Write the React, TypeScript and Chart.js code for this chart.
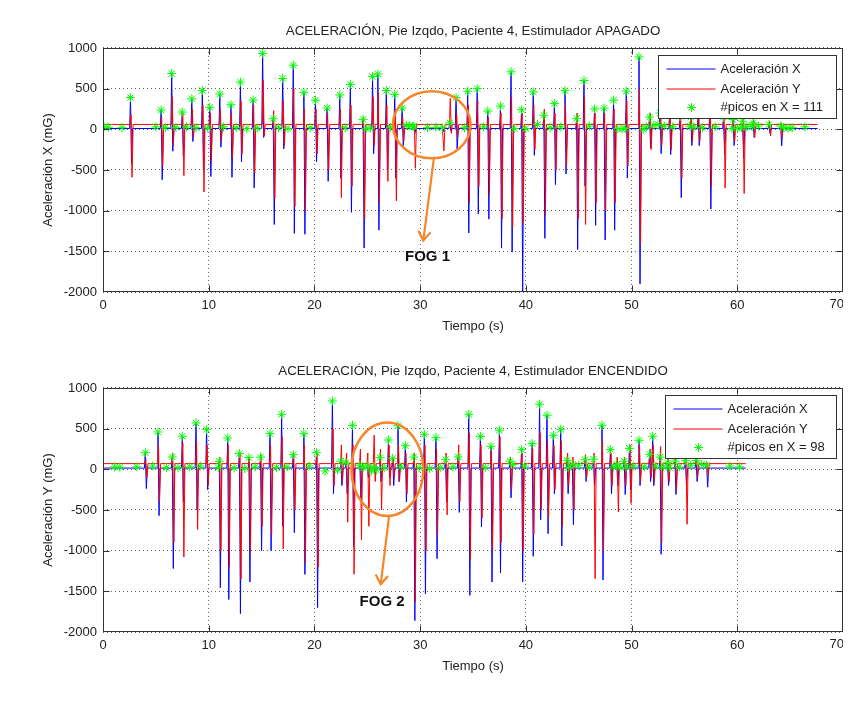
import { useEffect, useRef } from "react";
import { Chart, registerables } from "chart.js";
Chart.register(...registerables);

// ---------- shared axis ticks ----------
const X_MIN = 0;
const X_MAX = 70;
const X_STEP = 10;
const Y_MIN = -2000;
const Y_MAX = 1000;
const Y_STEP = 500;

// ---------- top plot: Estimulador APAGADO ----------
const OFF_TITLE = "ACELERACIÓN, Pie Izqdo, Paciente 4, Estimulador APAGADO";
const OFF_YLABEL = "Aceleración X (mG)";
const OFF_STAR_LABEL = "#picos en X = 111";
const OFF_END = 67.6;
const OFF_X_BASE = 10;
const OFF_Y_BASE = 60;
const OFF_T = [2.6, 5.5, 6.5, 7.5, 8.4, 9.4, 10.1, 11.05, 12.1, 13.0, 14.2, 15.1, 16.1, 17.0, 18.0, 19.0, 20.1, 21.2, 22.4, 23.4, 24.6, 25.5, 26.0, 26.8, 27.6, 28.3, 29.4, 32.1, 32.8, 33.4, 34.5, 35.4, 36.4, 37.6, 38.6, 39.6, 40.7, 41.7, 42.7, 43.7, 44.8, 45.5, 46.5, 47.4, 48.3, 49.5, 50.7, 51.7, 52.7, 53.6, 54.6, 55.6, 56.3, 57.4, 58.7, 59.6, 60.5, 61.5, 63.0, 64.1];
const OFF_X_PEAK = [390, 236, 686, 212, 375, 477, 270, 434, 302, 580, 360, 933, 130, 625, 788, 454, 357, 262, 422, 552, 122, 650, 680, 477, 430, 262, 40, 20, 80, 390, 469, 500, 225, 285, 707, 240, 460, 172, 318, 476, 134, 600, 250, 260, 358, 470, 890, 150, 200, 180, 160, 150, 200, 180, 150, 120, 100, 80, 60, 40];
const OFF_X_TROUGH = [-430, -620, -270, -330, -150, -500, -580, -220, -590, -400, -720, -100, -1170, -240, -1280, -1290, -400, -640, -600, -1020, -1460, -300, -1240, -500, -600, -200, -50, -30, -20, -265, -1274, -1042, -1104, -1460, -1510, -2000, -320, -1340, -680, -550, -1480, -700, -1180, -1360, -1240, -600, -1900, -230, -300, -310, -840, -200, -200, -980, -300, -200, -350, -100, -50, -205];
const OFF_Y_PEAK = [180, 150, 400, 200, 250, 300, 200, 250, 200, 350, 300, 600, 230, 350, 500, 250, 250, 200, 250, 300, 150, 400, 450, 300, 250, 150, 60, 60, 380, 200, 300, 350, 150, 200, 400, 200, 300, 250, 200, 300, 200, 400, 200, 200, 250, 350, 500, 200, 250, 200, 200, 180, 250, 200, 200, 150, 150, 120, 100, 80];
const OFF_Y_TROUGH = [-590, -450, -200, -570, -100, -770, -400, -150, -350, -300, -540, -80, -850, -200, -950, -1000, -300, -500, -840, -700, -1100, -200, -900, -640, -880, -150, -480, -265, -50, -100, -900, -700, -800, -1100, -1200, -1150, -250, -1050, -500, -450, -1100, -1170, -900, -1000, -900, -450, -1400, -250, -200, -250, -600, -150, -150, -700, -720, -150, -790, -100, -80, -100];
const OFF_STAR_T = [0.1, 0.5, 1.8, 5.0, 5.9, 6.9, 7.9, 8.8, 9.9, 11.4, 12.6, 13.6, 14.6, 16.6, 17.5, 19.6, 22.9, 24.9, 25.3, 27.2, 28.7, 29.0, 29.3, 30.7, 31.5, 34.2, 36.0, 38.9, 40.0, 41.1, 42.3, 43.3, 46.0, 48.7, 49.1, 49.4, 51.1, 51.4, 52.1, 52.5, 53.1, 53.9, 55.5, 55.9, 56.7, 57.9, 59.5, 60.0, 60.4, 60.9, 61.4, 62.0, 64.4, 64.8, 65.2, 66.4];
const OFF_STAR_V = [30, 25, 20, 30, 20, 25, 30, 20, 15, 30, 20, 10, 15, 20, 10, 20, 20, 10, 15, 25, 50, 40, 35, 20, 25, 20, 30, 10, 10, 60, 20, 30, 40, 10, 5, 10, 0, 30, 50, 60, 40, 30, 40, 30, 20, 30, 10, 15, 20, 30, 35, 40, 20, 15, 20, 30];
// FOG 1 annotation (data units)
const OFF_FOG = { label: "FOG 1", cx: 31.1, cy: 56, rx: 3.67, ry: 413, ax0: 31.3, ay0: -355, ax1: 30.3, ay1: -1368, tx: 30.7, ty: -1566 };

// ---------- bottom plot: Estimulador ENCENDIDO ----------
const ON_TITLE = "ACELERACIÓN, Pie Izqdo, Paciente 4, Estimulador ENCENDIDO";
const ON_YLABEL = "Aceleración Y (mG)";
const ON_STAR_LABEL = "#picos en X = 98";
const ON_END = 60.8;
const ON_X_BASE = 15;
const ON_Y_BASE = 70;
const ON_T = [4.0, 5.2, 6.55, 7.5, 8.8, 9.8, 11.0, 11.8, 12.9, 13.8, 14.9, 15.8, 16.9, 18.0, 19.0, 20.2, 21.7, 22.5, 23.0, 23.6, 24.3, 25.0, 25.6, 26.2, 27.0, 27.4, 27.9, 28.6, 29.4, 30.4, 31.5, 32.4, 33.6, 34.6, 35.7, 36.7, 37.5, 38.5, 39.6, 40.6, 41.3, 42.0, 42.6, 43.3, 43.9, 44.4, 45.6, 46.4, 47.2, 48.0, 48.6, 49.3, 49.8, 50.7, 51.7, 52.0, 52.7, 53.4, 54.1, 55.1, 56.1, 57.1];
const ON_X_PEAK = [205, 459, 151, 406, 570, 488, 100, 385, 193, 144, 150, 439, 676, 180, 439, 205, 840, 100, 80, 541, 50, 40, 30, 144, 360, 135, 536, 290, 150, 430, 390, 119, 152, 676, 405, 283, 480, 100, 242, 316, 800, 664, 418, 492, 110, 60, 118, 125, 541, 242, 60, 100, 257, 357, 185, 406, 150, 80, 100, 110, 110, 50];
const ON_X_TROUGH = [-237, -570, -1220, -400, -500, -250, -1455, -1600, -1775, -1386, -1000, -1000, -700, -780, -1292, -1700, -300, -200, -300, -950, -400, -100, -50, -150, -100, -200, -150, -400, -1860, -1530, -1099, -400, -530, -1550, -710, -1386, -1275, -350, -1386, -1070, -620, -791, -300, -943, -300, -680, -150, -200, -1360, -300, -200, -310, -250, -200, -150, -200, -1045, -200, -310, -200, -150, -220];
const ON_Y_PEAK = [120, 300, 200, 320, 350, 300, 150, 300, 200, 150, 180, 300, 400, 200, 300, 200, 500, 300, 200, 300, 250, 200, 420, 250, 300, 150, 300, 200, 200, 300, 250, 200, 300, 450, 300, 250, 400, 150, 200, 250, 450, 350, 300, 350, 200, 150, 180, 200, 350, 200, 150, 150, 300, 300, 250, 300, 280, 150, 150, 150, 150, 80];
const ON_Y_TROUGH = [-100, -400, -900, -1078, -740, -200, -1000, -1200, -1350, -1000, -700, -800, -980, -500, -1150, -1200, -200, -150, -650, -1290, -870, -700, -150, -500, -200, -100, -150, -300, -1630, -1000, -800, -560, -400, -1100, -600, -1000, -900, -250, -1000, -800, -500, -600, -250, -700, -200, -500, -100, -1345, -1000, -200, -525, -200, -420, -150, -100, -150, -900, -150, -250, -676, -100, -80];
const ON_STAR_T = [1.1, 1.6, 3.2, 4.7, 6.0, 7.1, 8.2, 9.2, 10.9, 12.4, 13.4, 14.4, 16.4, 17.4, 19.5, 21.0, 22.2, 24.6, 25.4, 25.9, 26.6, 28.2, 29.9, 30.9, 31.9, 33.1, 36.2, 38.8, 39.9, 44.0, 45.0, 46.0, 48.3, 48.9, 49.5, 50.2, 51.2, 52.3, 53.0, 53.6, 54.5, 55.6, 56.6, 59.3, 60.2];
const ON_STAR_V = [30, 25, 30, 40, 20, 20, 30, 40, 20, 15, 10, 30, 20, 30, 40, -20, -10, 20, -20, -10, 20, 30, 20, 10, 20, 30, 20, 60, 40, 20, 50, 30, 30, 20, 30, 40, 30, 40, 30, 20, 30, 50, 60, 40, 30];
const ON_FOG = { label: "FOG 2", cx: 26.9, cy: 0, rx: 3.4, ry: 574, ax0: 27.06, ay0: -578, ax1: 26.27, ay1: -1414, tx: 26.4, ty: -1632 };

const LEGEND_X = "Aceleración X";
const LEGEND_Y = "Aceleración Y";
const X_AXIS_LABEL = "Tiempo (s)";

const FONT = "'Liberation Sans', Arial, sans-serif";
const TXT = "#222";
const BLUE = "rgb(0,0,255)";
const RED = "rgb(255,0,0)";
const GREEN = "rgb(0,255,0)";
const ORANGE = "rgb(245,134,42)";

type Pt = { x: number; y: number };

function buildLine(t: number[], peak: number[], trough: number[], base: number, shift: number, end: number): Pt[] {
  const pts: Pt[] = [{ x: 0, y: base }];
  for (let i = 0; i < t.length; i++) {
    const c = t[i] + shift;
    pts.push({ x: c - 0.08, y: base }, { x: c, y: peak[i] }, { x: c + 0.1, y: trough[i] }, { x: c + 0.2, y: base });
  }
  pts.push({ x: end, y: base });
  return pts;
}

function buildStars(t: number[], v: number[], bt: number[], bv: number[]): Pt[] {
  const pts: Pt[] = [];
  for (let i = 0; i < t.length; i++) pts.push({ x: t[i], y: v[i] });
  for (let i = 0; i < bt.length; i++) pts.push({ x: bt[i], y: bv[i] });
  return pts.sort((a, b) => a.x - b.x);
}

type Fog = typeof OFF_FOG;

function makeDecor(fog: Fog, starLabel: string, legW: number) {
  return {
    id: "decor",
    afterDatasetsDraw(chart: any) {
      const { ctx, chartArea: ca, scales } = chart;
      const xs = scales.x;
      const ys = scales.y;
      ctx.save();
      const L = Math.round(ca.left) + 0.5;
      const R = Math.round(ca.right) - 0.5;
      const T = Math.round(ca.top) + 0.5;
      const B = Math.round(ca.bottom) - 0.5;
      ctx.strokeStyle = "#333";
      ctx.lineWidth = 1;
      ctx.setLineDash([]);
      ctx.strokeRect(L, T, R - L, B - T);
      ctx.beginPath();
      for (let v = X_MIN + X_STEP; v < X_MAX; v += X_STEP) {
        const px = Math.round(xs.getPixelForValue(v)) + 0.5;
        ctx.moveTo(px, T); ctx.lineTo(px, T + 6);
        ctx.moveTo(px, B); ctx.lineTo(px, B - 6);
      }
      for (let v = Y_MIN + Y_STEP; v < Y_MAX; v += Y_STEP) {
        const py = Math.round(ys.getPixelForValue(v)) + 0.5;
        ctx.moveTo(L, py); ctx.lineTo(L + 6, py);
        ctx.moveTo(R, py); ctx.lineTo(R - 6, py);
      }
      ctx.stroke();
      // ellipse
      const cx = xs.getPixelForValue(fog.cx);
      const cy = ys.getPixelForValue(fog.cy);
      const rx = Math.abs(xs.getPixelForValue(fog.cx + fog.rx) - cx);
      const ry = Math.abs(ys.getPixelForValue(fog.cy + fog.ry) - cy);
      ctx.strokeStyle = ORANGE;
      ctx.lineWidth = 2.5;
      ctx.beginPath();
      ctx.ellipse(cx, cy, rx, ry, 0, 0, Math.PI * 2);
      ctx.stroke();
      // arrow
      const x0 = xs.getPixelForValue(fog.ax0), y0 = ys.getPixelForValue(fog.ay0);
      const x1 = xs.getPixelForValue(fog.ax1), y1 = ys.getPixelForValue(fog.ay1);
      const ang = Math.atan2(y1 - y0, x1 - x0);
      const hl = 11;
      ctx.lineWidth = 2.2;
      ctx.beginPath();
      ctx.moveTo(x0, y0); ctx.lineTo(x1, y1);
      ctx.moveTo(x1 - hl * Math.cos(ang - 0.6), y1 - hl * Math.sin(ang - 0.6));
      ctx.lineTo(x1, y1);
      ctx.lineTo(x1 - hl * Math.cos(ang + 0.6), y1 - hl * Math.sin(ang + 0.6));
      ctx.stroke();
      ctx.fillStyle = "#111";
      ctx.font = `bold 15px ${FONT}`;
      ctx.textAlign = "center";
      ctx.textBaseline = "middle";
      ctx.fillText(fog.label, xs.getPixelForValue(fog.tx), ys.getPixelForValue(fog.ty));
      // legend
      const bx = Math.round(ca.right - 7 - legW) + 0.5;
      const by = Math.round(ca.top + 7) + 0.5;
      const bh = 63;
      ctx.fillStyle = "#fff";
      ctx.fillRect(bx, by, legW, bh);
      ctx.strokeStyle = "#333";
      ctx.lineWidth = 1;
      ctx.strokeRect(bx, by, legW, bh);
      const rows = [by + 13.5, by + 33.5, by + 52];
      ctx.strokeStyle = BLUE;
      ctx.beginPath(); ctx.moveTo(bx + 8, rows[0]); ctx.lineTo(bx + 57, rows[0]); ctx.stroke();
      ctx.strokeStyle = RED;
      ctx.beginPath(); ctx.moveTo(bx + 8, rows[1]); ctx.lineTo(bx + 57, rows[1]); ctx.stroke();
      ctx.strokeStyle = GREEN;
      const sx = bx + 33, sy = rows[2], r = 4.5;
      ctx.beginPath();
      for (let k = 0; k < 4; k++) {
        const a = (k * Math.PI) / 4;
        ctx.moveTo(sx - r * Math.cos(a), sy - r * Math.sin(a));
        ctx.lineTo(sx + r * Math.cos(a), sy + r * Math.sin(a));
      }
      ctx.stroke();
      ctx.fillStyle = TXT;
      ctx.font = `13px ${FONT}`;
      ctx.textAlign = "left";
      ctx.textBaseline = "middle";
      ctx.fillText(LEGEND_X, bx + 62, rows[0]);
      ctx.fillText(LEGEND_Y, bx + 62, rows[1]);
      ctx.fillText(starLabel, bx + 62, rows[2]);
      ctx.restore();
    },
    afterDraw(chart: any) {
      // last x tick label: kept fully inside the visible page edge
      const { ctx, chartArea: ca, scales } = chart;
      ctx.save();
      ctx.fillStyle = TXT;
      ctx.font = `13px ${FONT}`;
      ctx.textAlign = "right";
      ctx.textBaseline = "top";
      const px = scales.x.getPixelForValue(X_MAX);
      ctx.fillText(String(X_MAX), Math.min(px + 7, chart.width - 7), ca.bottom + 6);
      ctx.restore();
    },
  };
}

function makeConfig(opts: {
  title: string; yLabel: string; starLabel: string; legW: number; fog: Fog;
  xLine: Pt[]; yLine: Pt[]; stars: Pt[];
}): any {
  const tickFont = { family: FONT, size: 13 };
  return {
    type: "scatter",
    data: {
      datasets: [
        { label: LEGEND_X, data: opts.xLine, showLine: true, borderColor: BLUE, borderWidth: 1, pointRadius: 0, order: 3 },
        { label: LEGEND_Y, data: opts.yLine, showLine: true, borderColor: RED, borderWidth: 1, pointRadius: 0, order: 2 },
        {
          label: opts.starLabel, data: opts.stars, showLine: false, pointStyle: "star", pointRadius: 4.5,
          borderColor: GREEN, backgroundColor: GREEN, pointBorderWidth: 1, order: 1,
        },
      ],
    },
    options: {
      animation: false,
      responsive: false,
      events: [],
      layout: { padding: { left: 0, right: 8, top: 0, bottom: 0 } },
      plugins: {
        legend: { display: false },
        tooltip: { enabled: false },
        title: {
          display: true, text: opts.title, color: TXT, fullSize: false,
          font: { family: FONT, size: 13.3, weight: "normal" }, padding: { top: 15.5, bottom: 8.5 },
        },
      },
      scales: {
        x: {
          type: "linear", min: X_MIN, max: X_MAX,
          ticks: {
            stepSize: X_STEP, color: TXT, font: tickFont, padding: 6, maxRotation: 0,
            callback: (v: any) => (v === X_MAX ? "" : String(v)),
          },
          grid: { color: "#666", lineWidth: 1, drawTicks: false },
          border: { display: false, dash: [1, 3] },
          title: { display: true, text: X_AXIS_LABEL, color: TXT, font: tickFont, padding: { top: 0, bottom: 14 } },
          afterFit: (s: any) => { s.height = 56; s.paddingRight = 0; s.paddingLeft = 0; },
        },
        y: {
          type: "linear", min: Y_MIN, max: Y_MAX,
          ticks: { stepSize: Y_STEP, color: TXT, font: tickFont, padding: 6, callback: (v: any) => String(v) },
          grid: { color: "#666", lineWidth: 1, drawTicks: false },
          border: { display: false, dash: [1, 3] },
          title: { display: true, text: opts.yLabel, color: TXT, font: tickFont, padding: { top: 33, bottom: 0 } },
          afterFit: (s: any) => { s.width = 95; },
        },
      },
    },
    plugins: [makeDecor(opts.fog, opts.starLabel, opts.legW)],
  };
}

export default function App() {
  const topRef = useRef<HTMLCanvasElement>(null);
  const botRef = useRef<HTMLCanvasElement>(null);

  useEffect(() => {
    const prevOverflow = document.body.style.overflow;
    document.body.style.overflow = "hidden";
    const c1 = new Chart(topRef.current as HTMLCanvasElement, makeConfig({
      title: OFF_TITLE, yLabel: OFF_YLABEL, starLabel: OFF_STAR_LABEL, legW: 178, fog: OFF_FOG,
      xLine: buildLine(OFF_T, OFF_X_PEAK, OFF_X_TROUGH, OFF_X_BASE, 0, OFF_END),
      yLine: buildLine(OFF_T, OFF_Y_PEAK, OFF_Y_TROUGH, OFF_Y_BASE, 0.05, OFF_END),
      stars: buildStars(OFF_T, OFF_X_PEAK, OFF_STAR_T, OFF_STAR_V),
    }));
    const c2 = new Chart(botRef.current as HTMLCanvasElement, makeConfig({
      title: ON_TITLE, yLabel: ON_YLABEL, starLabel: ON_STAR_LABEL, legW: 171, fog: ON_FOG,
      xLine: buildLine(ON_T, ON_X_PEAK, ON_X_TROUGH, ON_X_BASE, 0, ON_END),
      yLine: buildLine(ON_T, ON_Y_PEAK, ON_Y_TROUGH, ON_Y_BASE, 0.05, ON_END),
      stars: buildStars(ON_T, ON_X_PEAK, ON_STAR_T, ON_STAR_V),
    }));
    return () => { c1.destroy(); c2.destroy(); document.body.style.overflow = prevOverflow; };
  }, []);

  return (
    <div style={{ position: "relative", width: 835, height: 680 }}>
      <div style={{ position: "absolute", left: -1, top: 2, width: 1, height: 690, background: "#000" }} />
      <canvas ref={topRef} width={843} height={340} style={{ position: "absolute", left: 0, top: 0 }} />
      <canvas ref={botRef} width={843} height={340} style={{ position: "absolute", left: 0, top: 340 }} />
    </div>
  );
}
